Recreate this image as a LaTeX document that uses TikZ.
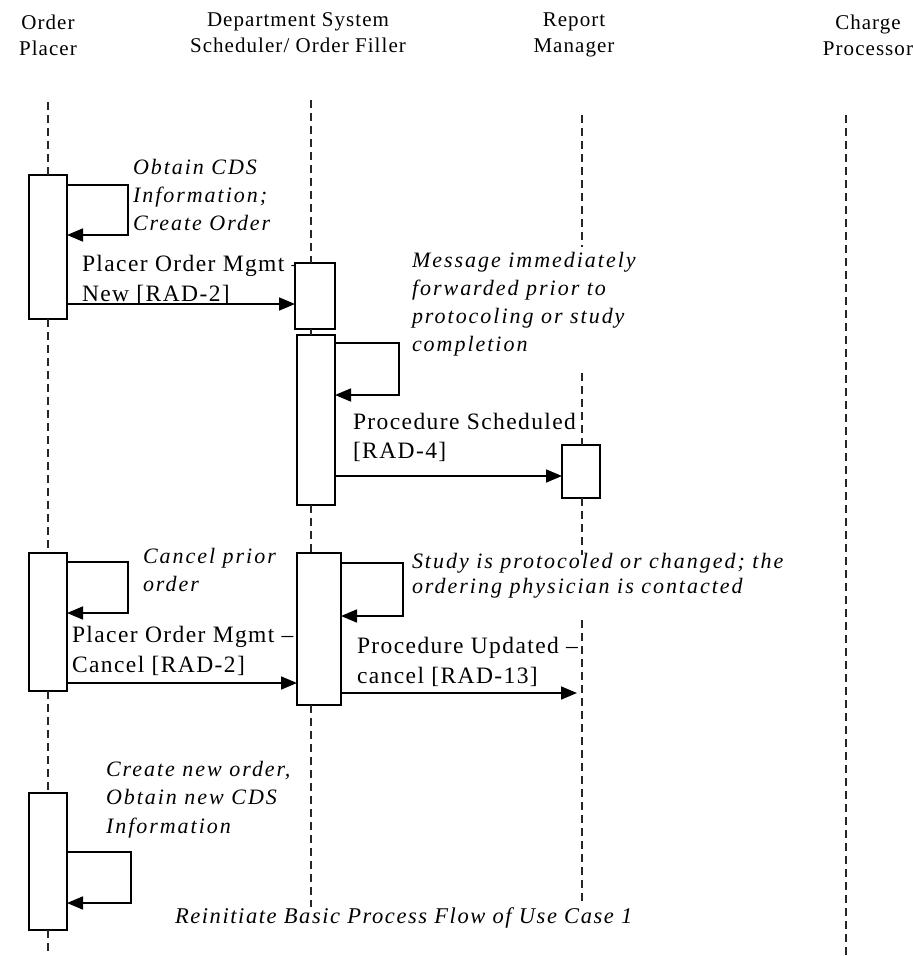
\documentclass[tikz,border=0pt]{standalone}
\usepackage{fontspec}
\setmainfont{Liberation Serif}
\newfontfamily\headfont{Liberation Serif}[LetterSpace=5]
\newfontfamily\lblfont{Liberation Serif}[LetterSpace=6]
\newfontfamily\notefont{Liberation Serif}[LetterSpace=9]
\newfontfamily\flowfont{Liberation Serif}[LetterSpace=7]
\usepackage{xcolor}
\usetikzlibrary{positioning,calc,arrows.meta}
\definecolor{ink}{HTML}{000000}
\definecolor{lifeink}{HTML}{262626}
\tikzset{
  head/.style    = {font=\fontsize{21}{26}\selectfont\headfont, align=center, inner sep=0pt, outer sep=0pt, text=ink},
  lbl/.style     = {font=\fontsize{23.5}{29.5}\selectfont\lblfont, align=left, anchor=west, inner sep=0pt, outer sep=0pt, text=ink},
  note/.style    = {font=\fontsize{22}{28}\selectfont\notefont\itshape, align=left, anchor=west, inner sep=0pt, outer sep=0pt, text=ink},
  act/.style     = {draw=ink, fill=white, line width=1.8pt, inner sep=0pt, outer sep=0pt},
  life/.style    = {draw=lifeink, line width=1.6pt, dash pattern=on 8pt off 5pt},
  msg/.style     = {draw=ink, line width=1.7pt, -{Triangle[length=16pt,width=13pt]}},
}

\begin{document}
\begin{tikzpicture}[x=1pt,y=-1pt]
\path[use as bounding box] (0,0) rectangle (913,956);

% ---- headers ------------------------------------------------------------
\node[head] (hop) at (48,35)  {Order\\Placer};
\node[head] (hds) at (298,33) {Department System\\Scheduler/ Order Filler};
\node[head] (hrm) at (574,35) {Report\\Manager};
\node[head] (hcp) at (868,35) {Charge\\Processor};

% ---- labels ---------------------------------------------------------------
\node[note] (n1) at (133,195)   {Obtain CDS\\Information;\\Create Order};
\node[lbl]  (l1) at (82,280)    {Placer Order Mgmt \textendash\\New [RAD-2]};
\node[note] (n2) at (412,304)   {Message immediately\\forwarded prior to\\protocoling or study\\completion};
\node[lbl]  (l2) at (353,437.5) {Procedure Scheduled\\{}[RAD-4]};
\node[note] (n3) at (143,569.5) {Cancel prior\\order};
\node[lbl]  (l3) at (72,651)    {Placer Order Mgmt \textendash\\Cancel [RAD-2]};
\node[note, font=\fontsize{22}{25}\selectfont\notefont\itshape] (n4) at (412,575.5)
  {Study is protocoled or changed; the\\ordering physician is contacted};
\node[lbl]  (l4) at (357,662)   {Procedure Updated \textendash\\cancel [RAD-13]};
\node[note, font=\fontsize{22}{28.5}\selectfont\notefont\itshape] (n5) at (106,799.5)
  {Create new order,\\Obtain new CDS\\Information};
\node[note, font=\fontsize{22.5}{26}\selectfont\flowfont\itshape] (n6) at (175,918)
  {Reinitiate Basic Process Flow of Use Case 1};

% ---- activation boxes -----------------------------------------------------
\path (48,247)    node[act, minimum width=38pt, minimum height=144pt] (op1) {};
\path (48,622)    node[act, minimum width=38pt, minimum height=138pt] (op2) {};
\path (48,861.5)  node[act, minimum width=38pt, minimum height=137pt] (op3) {};
\path (315,296)   node[act, minimum width=40pt, minimum height=66pt]  (ds1) {};
\path (316,420)   node[act, minimum width=38pt, minimum height=170pt] (ds2) {};
\path (319,629)   node[act, minimum width=44pt, minimum height=152pt] (ds3) {};
\path (581,471.5) node[act, minimum width=38pt, minimum height=53pt]  (rm1) {};

% ---- lifelines ------------------------------------------------------------
\coordinate (op0) at (48,102);  \coordinate (op9) at (48,956);
\coordinate (ds0) at (311,100); \coordinate (ds9) at (311,907);
\coordinate (rm0) at (582,115); \coordinate (rm9) at (582,905);
\coordinate (cp0) at (846,115); \coordinate (cp9) at (846,956);

\draw[life] (op0) -- (op1.north);
\draw[life] (op1.south) -- (op2.north);
\draw[life] (op2.south) -- (op3.north);
\draw[life] (op3.south) -- (op9);

\draw[life] (ds0) -- (ds0 |- ds1.north);
\draw[life] (ds0 |- ds1.south) -- (ds0 |- ds2.north);
\draw[life] (ds0 |- ds2.south) -- (ds0 |- ds3.north);
\draw[life] (ds0 |- ds3.south) -- (ds9);

\coordinate (rmA) at (582,247); \coordinate (rmB) at (582,373);
\coordinate (rmC) at (582,555); \coordinate (rmD) at (582,620);
\draw[life] (rm0) -- (rmA);
\draw[life] (rmB) -- (rm0 |- rm1.north);
\draw[life] (rm0 |- rm1.south) -- (rmC);
\draw[life] (rmD) -- (rm9);

\draw[life] (cp0) -- (cp9);

% ---- self calls -----------------------------------------------------------
\coordinate (s1a) at (128,185); \coordinate (s1b) at (128,235);
\draw[msg] (op1.east |- s1a) -- (s1a) -- (s1b) -- (op1.east |- s1b);
\coordinate (s2a) at (399,343); \coordinate (s2b) at (399,395);
\draw[msg] (ds2.east |- s2a) -- (s2a) -- (s2b) -- (ds2.east |- s2b);
\coordinate (s3a) at (128,562); \coordinate (s3b) at (128,613);
\draw[msg] (op2.east |- s3a) -- (s3a) -- (s3b) -- (op2.east |- s3b);
\coordinate (s4a) at (403,563); \coordinate (s4b) at (403,616);
\draw[msg] (ds3.east |- s4a) -- (s4a) -- (s4b) -- (ds3.east |- s4b);
\coordinate (s5a) at (131,852); \coordinate (s5b) at (131,903);
\draw[msg] (op3.east |- s5a) -- (s5a) -- (s5b) -- (op3.east |- s5b);

% ---- messages -------------------------------------------------------------
\coordinate (m1) at (0,304);
\draw[msg] (op1.east |- m1) -- (ds1.west |- m1);
\coordinate (m2) at (0,476);
\draw[msg] (ds2.east |- m2) -- (rm1.west |- m2);
\coordinate (m3) at (0,683);
\draw[msg] (op2.east |- m3) -- (ds3.west |- m3);
\coordinate (rmU) at (577,693);
\draw[msg] (ds3.east |- rmU) -- (rmU);

\end{tikzpicture}
\end{document}
